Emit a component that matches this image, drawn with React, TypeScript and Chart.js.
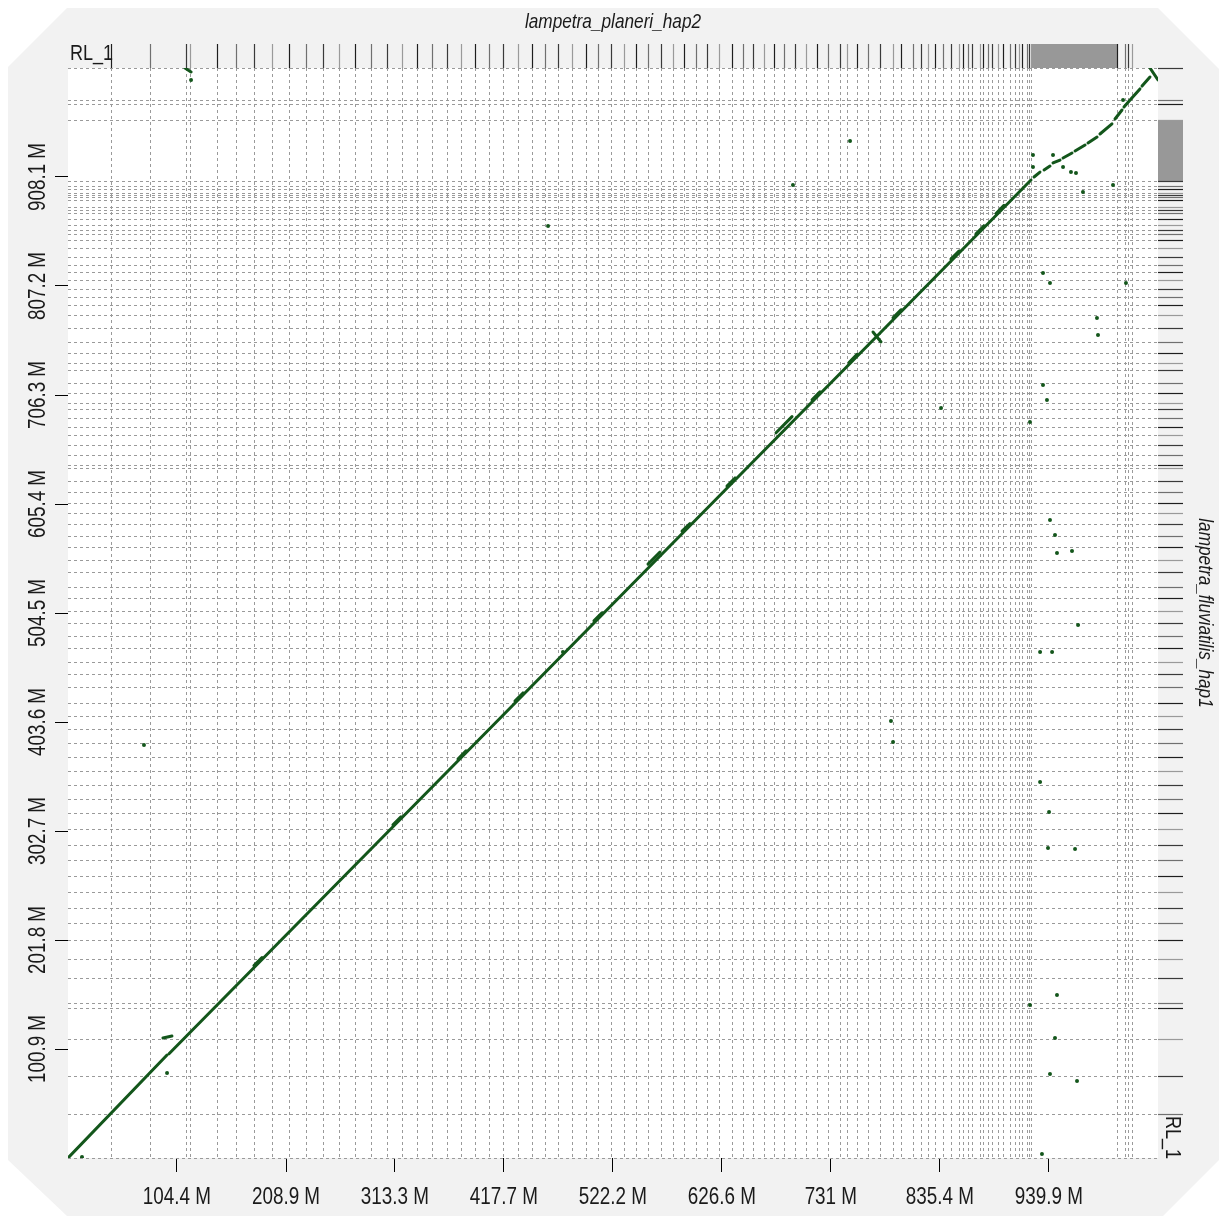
import { useEffect, useRef } from 'react';
import { Chart, registerables } from 'chart.js';

Chart.register(...registerables);

const CANVAS_W = 1211;
const CANVAS_H = 1208;

const queryName = 'lampetra_planeri_hap2';
const targetName = 'lampetra_fluviatilis_hap1';
const firstContig = 'RL_1';

// genome lengths (Mb)
const xMax = 1044.5;
const yMax = 1009.0;

const xTickValues = [104.4, 208.9, 313.3, 417.7, 522.2, 626.6, 731, 835.4, 939.9];
const yTickValues = [100.9, 201.8, 302.7, 403.6, 504.5, 605.4, 706.3, 807.2, 908.1];

// contig end positions (Mb) of lampetra_planeri_hap2
const xContigEnds = [
  41.2, 78.6, 113.1, 116.9, 142.8, 161.0, 178.2, 195.5, 211.8, 228.1, 244.4, 259.7, 275.0, 290.4,
  305.7, 320.1, 334.4, 348.8, 363.2, 376.6, 390.0, 403.4, 416.8, 431.2, 444.6, 457.1, 469.5, 483.0,
  496.4, 507.9, 520.3, 532.8, 544.3, 555.8, 568.2, 579.7, 590.3, 601.8, 612.3, 623.8, 636.3, 646.8,
  656.4, 667.0, 676.5, 686.1, 696.7, 707.2, 717.7, 728.3, 739.8, 746.5, 756.1, 766.6, 778.1, 790.6,
  798.2, 809.7, 817.4, 824.1, 830.8, 838.5, 846.1, 853.8, 857.6, 862.4, 866.3, 873.9, 876.8, 881.6,
  885.4, 891.2, 896.0, 902.7, 907.5, 911.3, 914.2, 919.0, 920.9, 922.8, 1005.2, 1012.9, 1015.8, 1019.6,
];
// span occupied by many tiny unplaced contigs
const xSmallContigSpan = [922.8, 1005.2];

// contig end positions (Mb) of lampetra_fluviatilis_hap1
const yContigEnds = [
  40.7, 75.9, 110.2, 138.9, 143.5, 166.6, 184.2, 201.8, 217.5, 231.4, 246.2, 261.0, 275.9, 289.7,
  304.6, 319.4, 332.3, 345.3, 358.2, 371.2, 384.2, 397.1, 409.2, 421.2, 436.0, 448.0, 459.1, 472.1,
  483.2, 495.2, 506.4, 518.4, 528.6, 542.5, 553.6, 565.6, 575.8, 586.9, 597.1, 606.3, 616.5, 626.7,
  638.7, 641.5, 650.8, 660.0, 669.3, 676.7, 685.0, 693.3, 698.9, 708.1, 717.4, 729.4, 735.9, 745.2,
  755.4, 768.3, 780.4, 789.6, 797.0, 804.4, 812.8, 820.2, 826.6, 834.1, 842.4, 849.8, 855.3, 859.0,
  863.7, 869.2, 874.8, 877.6, 880.3, 886.8, 889.6, 891.4, 893.3, 897.0, 899.8, 904.4, 960.9, 975.7,
  979.4,
];
const ySmallContigSpan = [904.4, 960.9];

// main collinear alignment blocks [xStart, yStart, xEnd, yEnd] (Mb)
const alignments: number[][] = [
  [0, 0, 94.9, 95.3],
  [96.8, 96.5, 922.8, 905.3],
  [91.0, 111.1, 99.6, 112.9],
  [112.1, 1009.0, 117.9, 1005.3],
  [925.7, 908.1, 931.4, 912.7],
  [935.3, 914.6, 941.0, 918.3],
  [943.9, 921.1, 950.6, 923.8],
  [953.5, 925.7, 962.1, 930.3],
  [965.0, 932.2, 974.6, 937.7],
  [977.4, 939.6, 986.1, 945.1],
  [988.9, 947.9, 1000.4, 957.2],
  [1003.3, 961.8, 1010.0, 970.1],
  [1011.9, 972.9, 1017.7, 979.4],
  [1018.6, 980.3, 1027.2, 989.6],
  [1029.2, 992.3, 1036.8, 1000.7],
  [1036.8, 1009.0, 1044.5, 997.9],
];

// short local hits overlapping the main diagonal [xStart, yStart, xEnd, yEnd] (Mb)
const localHits: number[][] = [
  [178.2, 178.1, 185.9, 185.6],
  [311.4, 308.4, 319.1, 315.9],
  [373.7, 369.4, 381.4, 376.9],
  [428.3, 423.0, 436.0, 430.5],
  [504.0, 497.2, 511.7, 504.7],
  [555.8, 549.7, 567.3, 560.9],
  [588.4, 580.3, 596.0, 587.2],
  [631.5, 622.0, 639.2, 629.5],
  [678.5, 671.3, 693.8, 686.3],
  [713.0, 701.8, 720.6, 709.3],
  [748.4, 736.4, 756.1, 743.9],
  [771.4, 764.6, 779.1, 755.4],
  [790.6, 777.7, 798.2, 785.2],
  [846.1, 832.1, 853.8, 839.6],
  [870.1, 855.5, 877.8, 863.0],
  [889.3, 874.3, 896.9, 881.8],
];

// isolated hits [x, y] (Mb)
const strayHits: number[][] = [
  [117.9, 997.9], [749.4, 941.4], [694.7, 900.7], [460.0, 862.7], [924.7, 928.5], [943.9, 928.5],
  [953.5, 917.4], [961.1, 912.7], [965.9, 911.8], [972.6, 894.2], [1001.4, 900.7], [924.7, 917.4],
  [1011.0, 979.4], [934.3, 819.2], [941.0, 810.0], [1013.8, 810.0], [986.0, 777.6], [987.0, 761.8],
  [934.3, 715.6], [938.1, 701.7], [836.6, 694.3], [921.8, 681.3], [941.0, 590.6], [945.8, 576.7],
  [947.7, 560.0], [962.1, 561.9], [967.9, 493.4], [931.5, 468.4], [943.0, 468.4], [788.6, 404.5],
  [790.6, 385.1], [72.8, 382.3], [931.5, 348.1], [940.1, 320.3], [939.1, 287.0], [965.0, 286.0],
  [921.8, 141.6], [947.7, 150.9], [945.8, 111.1], [966.9, 71.3], [941.0, 77.8], [933.3, 3.7],
  [13.4, 0.9], [94.9, 78.7], [474.3, 468.4],
];

const FONT = "'Liberation Sans', Arial, sans-serif";
const NARROW = 0.82; // horizontal squeeze giving an Arial Narrow look
const TEXT_COLOR = '#1a1a1a';
const HIT_GREEN = '#13561b';
const GRID_GREY = '#9a9a9a';
const STRIP_SHADES = ['#1e1e1e', '#707070', '#3a3a3a', '#9a9a9a'];

function narrowText(ctx: CanvasRenderingContext2D, text: string, x: number, y: number, rotation: number) {
  ctx.save();
  ctx.translate(x, y);
  ctx.rotate(rotation);
  ctx.scale(NARROW, 1);
  ctx.fillText(text, 0, 0);
  ctx.restore();
}

const framePlugin = {
  id: 'dotplotFrame',
  beforeDraw(chart: any) {
    const { ctx, width, height, chartArea: a } = chart;
    const cut = 59;
    ctx.save();
    ctx.fillStyle = '#f2f2f2';
    ctx.beginPath();
    ctx.moveTo(cut, 0);
    ctx.lineTo(width - cut - 2, 0);
    ctx.lineTo(width, cut + 2);
    ctx.lineTo(width, height - 56);
    ctx.lineTo(width - 56, height);
    ctx.lineTo(cut, height);
    ctx.lineTo(0, height - 56);
    ctx.lineTo(0, cut);
    ctx.closePath();
    ctx.fill();
    ctx.fillStyle = '#ffffff';
    ctx.fillRect(a.left, a.top, a.right - a.left, a.bottom - a.top);
    ctx.restore();
  },
  beforeDatasetsDraw(chart: any) {
    const { ctx, chartArea: a, scales } = chart;
    const xs = scales.x;
    const ys = scales.y;
    ctx.save();
    ctx.lineWidth = 1;
    ctx.strokeStyle = GRID_GREY;
    ctx.setLineDash([3, 3]);
    xContigEnds.forEach((v) => {
      const px = Math.round(xs.getPixelForValue(v)) + 0.5;
      ctx.beginPath();
      ctx.moveTo(px, a.top);
      ctx.lineTo(px, a.bottom);
      ctx.stroke();
    });
    [0, ...yContigEnds, yMax].forEach((v) => {
      const py = Math.round(ys.getPixelForValue(v)) + 0.5;
      ctx.beginPath();
      ctx.moveTo(a.left, py);
      ctx.lineTo(a.right, py);
      ctx.stroke();
    });
    ctx.setLineDash([]);

    // contig strips along the top and right edges
    const stripSize = 24;
    ctx.fillStyle = '#989898';
    const bx0 = xs.getPixelForValue(xSmallContigSpan[0]);
    const bx1 = xs.getPixelForValue(xSmallContigSpan[1]);
    ctx.fillRect(bx0, a.top - stripSize, bx1 - bx0, stripSize);
    const by0 = ys.getPixelForValue(ySmallContigSpan[1]);
    const by1 = ys.getPixelForValue(ySmallContigSpan[0]);
    ctx.fillRect(a.right, by0, stripSize + 1, by1 - by0);

    ctx.lineWidth = 1.2;
    xContigEnds.forEach((v, i) => {
      const px = Math.round(xs.getPixelForValue(v)) + 0.5;
      ctx.strokeStyle = STRIP_SHADES[i % STRIP_SHADES.length];
      ctx.beginPath();
      ctx.moveTo(px, a.top - stripSize);
      ctx.lineTo(px, a.top);
      ctx.stroke();
    });
    [...yContigEnds, yMax].forEach((v, i) => {
      const py = Math.round(ys.getPixelForValue(v)) + 0.5;
      ctx.strokeStyle = STRIP_SHADES[(i + 1) % STRIP_SHADES.length];
      ctx.beginPath();
      ctx.moveTo(a.right, py);
      ctx.lineTo(a.right + stripSize + 1, py);
      ctx.stroke();
    });
    ctx.restore();
  },
  afterDraw(chart: any) {
    const { ctx, chartArea: a, scales } = chart;
    const xs = scales.x;
    const ys = scales.y;
    ctx.save();
    ctx.fillStyle = TEXT_COLOR;
    ctx.font = `23px ${FONT}`;
    ctx.textAlign = 'center';
    ctx.textBaseline = 'alphabetic';
    // axis tick labels
    xTickValues.forEach((v) => {
      narrowText(ctx, `${v} M`, xs.getPixelForValue(v), a.bottom + 46, 0);
    });
    yTickValues.forEach((v) => {
      narrowText(ctx, `${v} M`, a.left - 23, ys.getPixelForValue(v), -Math.PI / 2);
    });
    // genome names
    ctx.font = `italic 21px ${FONT}`;
    narrowText(ctx, queryName, (a.left + a.right) / 2, 20, 0);
    narrowText(ctx, targetName, a.right + 41, (a.top + a.bottom) / 2, Math.PI / 2);
    // first contig names
    ctx.font = `22px ${FONT}`;
    ctx.textAlign = 'left';
    narrowText(ctx, firstContig, a.left + 2, a.top - 8, 0);
    narrowText(ctx, firstContig, a.right + 8, a.bottom - 42, Math.PI / 2);
    ctx.restore();
  },
};

function segmentDataset(s: number[], width: number) {
  return {
    type: 'scatter',
    showLine: true,
    data: [
      { x: s[0], y: s[1] },
      { x: s[2], y: s[3] },
    ],
    borderColor: HIT_GREEN,
    backgroundColor: HIT_GREEN,
    borderWidth: width,
    pointRadius: 0,
    borderCapStyle: 'round',
  };
}

export default function App() {
  const canvasRef = useRef<HTMLCanvasElement | null>(null);

  useEffect(() => {
    const canvas = canvasRef.current;
    if (!canvas) return;
    const datasets: any[] = [
      ...alignments.map((s) => segmentDataset(s, 3)),
      ...localHits.map((s) => segmentDataset(s, 3)),
    ];
    datasets.push({
      type: 'scatter',
      data: strayHits.map((p) => ({ x: p[0], y: p[1] })),
      backgroundColor: HIT_GREEN,
      borderWidth: 0,
      pointRadius: 2,
    });

    const chart = new Chart(canvas, {
      type: 'scatter',
      data: { datasets },
      options: {
        animation: false,
        responsive: false,
        devicePixelRatio: 1,
        layout: { padding: { left: 0, top: 60, right: 61, bottom: 0 } },
        plugins: { legend: { display: false }, tooltip: { enabled: false } },
        scales: {
          x: {
            type: 'linear',
            min: 0,
            max: xMax,
            position: 'bottom',
            afterBuildTicks: (s: any) => {
              s.ticks = xTickValues.map((v) => ({ value: v }));
            },
            afterFit: (s: any) => {
              s.height = 58;
            },
            ticks: { display: false },
            grid: { drawOnChartArea: false, drawTicks: true, tickLength: 14, color: '#000', lineWidth: 1 },
            border: { display: false },
          },
          y: {
            type: 'linear',
            min: 0,
            max: yMax,
            position: 'left',
            afterBuildTicks: (s: any) => {
              s.ticks = yTickValues.map((v) => ({ value: v }));
            },
            afterFit: (s: any) => {
              s.width = 60;
            },
            ticks: { display: false },
            grid: { drawOnChartArea: false, drawTicks: true, tickLength: 13, color: '#000', lineWidth: 1 },
            border: { display: false },
          },
        },
      },
      plugins: [framePlugin],
    } as any);
    return () => chart.destroy();
  }, []);

  return (
    <div style={{ position: 'fixed', left: 8, top: 8, width: CANVAS_W, height: CANVAS_H }}>
      <canvas ref={canvasRef} width={CANVAS_W} height={CANVAS_H} style={{ display: 'block' }} />
    </div>
  );
}
